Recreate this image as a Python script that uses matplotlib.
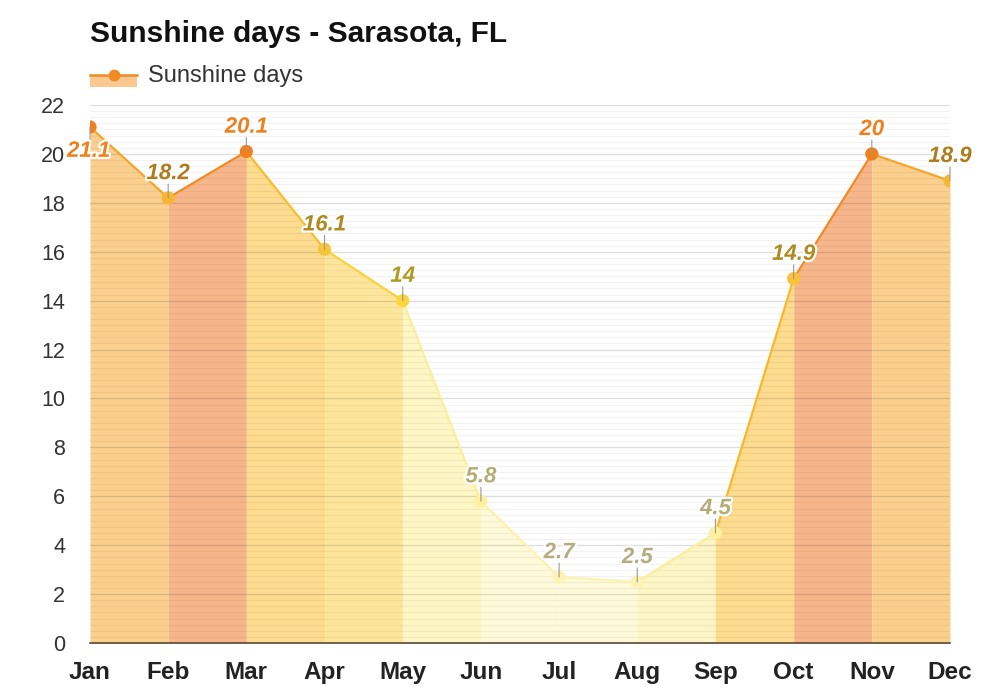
import matplotlib.pyplot as plt
import matplotlib.patheffects as pe
from matplotlib.lines import Line2D
from matplotlib.patches import Rectangle
import numpy as np

plt.rcParams['font.family'] = ['Liberation Sans', 'DejaVu Sans']

months = ["Jan", "Feb", "Mar", "Apr", "May", "Jun", "Jul", "Aug", "Sep", "Oct", "Nov", "Dec"]
sunshine = [21.1, 18.2, 20.1, 16.1, 14, 5.8, 2.7, 2.5, 4.5, 14.9, 20, 18.9]
labels = ["21.1", "18.2", "20.1", "16.1", "14", "5.8", "2.7", "2.5", "4.5", "14.9", "20", "18.9"]

# colours per point (marker / line into point / fill into point / label)
marker_cols = ["#f07f1d", "#f7b530", "#f07f1d", "#f8c53a", "#fad63c", "#fdf09e",
               "#fef3b4", "#fef3b4", "#fdf09e", "#f8c23a", "#f07f1d", "#f7b530"]
line_cols = ["#f08a24", "#f5a52c", "#f08a24", "#f8be30", "#f9d23a", "#fcee9a",
             "#fdf3b0", "#fdf3b0", "#fcee9a", "#f8b828", "#f08a24", "#f5a52c"]
fill_cols = ["#fbcf90", "#fbd08f", "#f7b68a", "#fddc8f", "#fde69c", "#fef6c4",
             "#fefad9", "#fefad9", "#fef5c6", "#fddc90", "#f7b68a", "#fbd08f"]
label_cols = ["#f07f1d", "#b07d1e", "#f07f1d", "#b08a20", "#b09a22", "#b5ad72",
              "#b5ad80", "#b5ad80", "#b5ad78", "#b08a20", "#f07f1d", "#b07d1e"]

fig = plt.figure(figsize=(10, 7), dpi=100)
ax = fig.add_axes([0.09, 0.0814, 0.86, 0.7686])

x = np.arange(len(months))

for i in range(1, len(x)):
    ax.fill_between(x[i - 1:i + 1], sunshine[i - 1:i + 1], 0,
                    color=fill_cols[i], lw=0, zorder=1)
    ax.plot(x[i - 1:i + 1], sunshine[i - 1:i + 1], color=line_cols[i], lw=1.6, zorder=3)

ax.scatter(x, sunshine, s=90, c=marker_cols, zorder=4, linewidths=0)

stroke = [pe.withStroke(linewidth=3, foreground='white')]
for i, (xi, yi) in enumerate(zip(x, sunshine)):
    sign = -1 if i == 0 else 1
    ax.annotate('', xy=(xi, yi), xytext=(0, sign * 10), textcoords='offset points',
                arrowprops=dict(arrowstyle='-', color='#999999', lw=0.8,
                                shrinkA=0, shrinkB=0), zorder=5)
    ax.annotate(labels[i], xy=(xi, yi), xytext=(-1 if i == 0 else 0, sign * 17.5),
                textcoords='offset points', ha='center', va='center',
                fontsize=16, fontweight='bold', fontstyle='italic',
                color=label_cols[i], zorder=6, path_effects=stroke)

ax.set_xlim(0, 11)
ax.set_ylim(0, 22)
ax.set_yticks(np.arange(0, 23, 2))
ax.set_yticks(np.arange(0, 22.01, 0.25), minor=True)
ax.set_xticks(x)
ax.set_xticklabels(months, fontsize=17.5, fontweight='bold', color='#222222')
ax.tick_params(axis='y', labelsize=15.5, labelcolor='#333333', length=0, pad=18, which='both')
ax.tick_params(axis='x', length=0, pad=13)
ax.set_axisbelow('line')
ax.grid(axis='y', which='major', color='black', alpha=0.13, lw=1)
ax.grid(axis='y', which='minor', color='black', alpha=0.05, lw=0.8)
for s in ['top', 'right', 'left']:
    ax.spines[s].set_visible(False)
ax.spines['bottom'].set_color('#5a4a3a')
ax.spines['bottom'].set_linewidth(1.2)
ax.spines['bottom'].set_zorder(5)

fig.text(0.09, 0.952, "Sunshine days - Sarasota, FL", fontsize=21.5, fontweight='bold',
         color='#111111', va='center')

# legend drawn by hand: filled band under a line with a marker
fig.patches.append(Rectangle((0.09, 0.876), 0.047, 0.017, transform=fig.transFigure,
                             facecolor='#fbc88f', edgecolor='none'))
fig.lines.append(Line2D([0.09, 0.137], [0.893, 0.893], transform=fig.transFigure,
                        color='#f08a24', lw=1.8))
fig.lines.append(Line2D([0.1135], [0.893], transform=fig.transFigure, color='#f08a24',
                        marker='o', markersize=7.5, lw=0))
fig.text(0.148, 0.891, "Sunshine days", fontsize=17, color='#333333', va='center')

fig.savefig("out.png", dpi=100)
